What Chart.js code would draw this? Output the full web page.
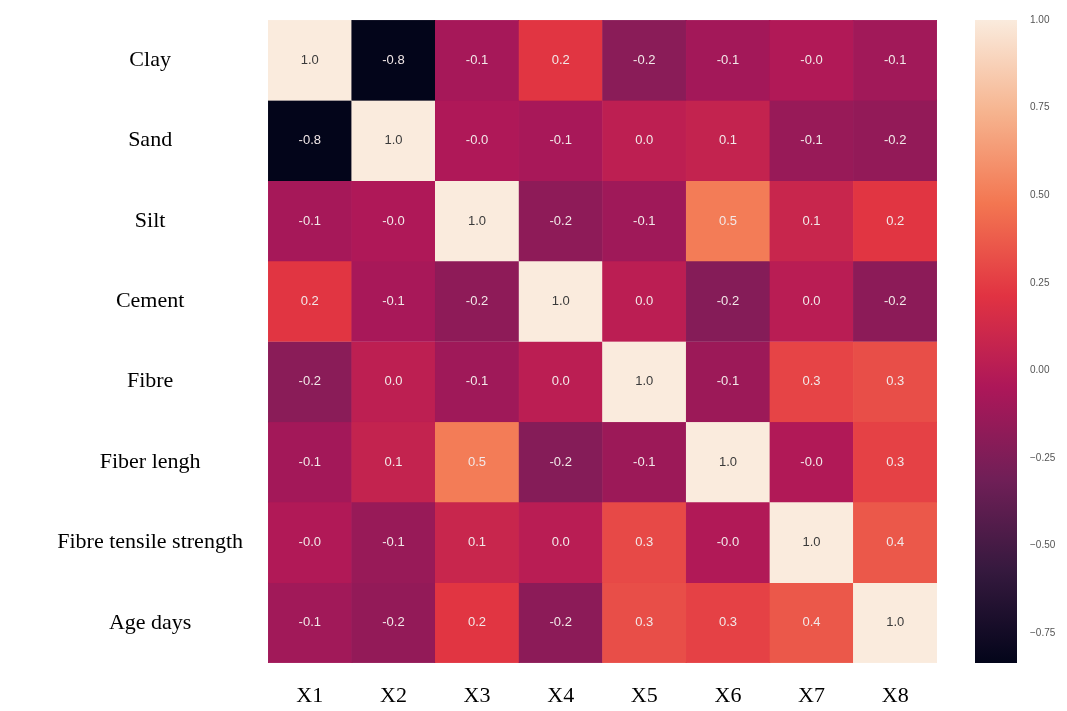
<!DOCTYPE html>
<html>
<head>
<meta charset="utf-8">
<script src="https://cdn.jsdelivr.net/npm/chart.js@4.4.0/dist/chart.umd.min.js"></script>
<style>
    html, body { margin: 0; padding: 0; background: #fff; }
    #wrap { position: relative; width: 1067px; height: 711px; }
    .box { position: absolute; top: 0; height: 711px; }
</style>
</head>
<body>
<div id="wrap">
    <div class="box" style="left:0; width:945px;"><canvas id="heat"></canvas></div>
    <div class="box" style="left:940px; width:127px;"><canvas id="cbar"></canvas></div>
</div>
<script>
// row / column names
const rows = ['Clay', 'Sand', 'Silt', 'Cement', 'Fibre', 'Fiber lengh', 'Fibre tensile strength', 'Age days'];
const cols = ['X1', 'X2', 'X3', 'X4', 'X5', 'X6', 'X7', 'X8'];

// correlation values (one array per row)
const clay     = [1.0, -0.835, -0.08, 0.22, -0.20, -0.09, -0.03, -0.10];
const sand     = [-0.835, 1.0, -0.04, -0.07, 0.03, 0.06, -0.14, -0.16];
const silt     = [-0.08, -0.04, 1.0, -0.18, -0.11, 0.50, 0.09, 0.22];
const cement   = [0.22, -0.07, -0.18, 1.0, 0.02, -0.22, 0.01, -0.19];
const fibre    = [-0.20, 0.03, -0.11, 0.02, 1.0, -0.12, 0.28, 0.32];
const fibLen   = [-0.09, 0.06, 0.50, -0.22, -0.12, 1.0, -0.03, 0.27];
const tensile  = [-0.03, -0.14, 0.09, 0.01, 0.30, -0.03, 1.0, 0.36];
const ageDays  = [-0.10, -0.16, 0.22, -0.19, 0.32, 0.27, 0.36, 1.0];
const matrix = [clay, sand, silt, cement, fibre, fibLen, tensile, ageDays];

// colour bar
const vmin = -0.835, vmax = 1.0;
const cbarTicks = [-0.75, -0.5, -0.25, 0, 0.25, 0.5, 0.75, 1.0];

// seaborn "rocket" colormap stops
const rocket = ['#03051a', '#35193e', '#701f57', '#ad1759', '#e13342', '#f37651', '#f6b48f', '#faebdd'];

function hexToRgb(h) {
    return [parseInt(h.substr(1, 2), 16), parseInt(h.substr(3, 2), 16), parseInt(h.substr(5, 2), 16)];
}
function colorFor(v) {
    let t = (v - vmin) / (vmax - vmin);
    t = Math.max(0, Math.min(1, t));
    const pos = t * (rocket.length - 1);
    const i = Math.min(Math.floor(pos), rocket.length - 2);
    const f = pos - i;
    const a = hexToRgb(rocket[i]), b = hexToRgb(rocket[i + 1]);
    const c = a.map((x, k) => Math.round(x + (b[k] - x) * f));
    return 'rgb(' + c.join(',') + ')';
}

// values written inside cells
const cellText = {
    id: 'cellText',
    afterDatasetsDraw(chart) {
        const ctx = chart.ctx;
        ctx.save();
        ctx.font = '13px "Liberation Sans", Arial, sans-serif';
        ctx.textAlign = 'center';
        ctx.textBaseline = 'middle';
        chart.data.datasets.forEach((ds, i) => {
            chart.getDatasetMeta(i).data.forEach((bar, j) => {
                const v = matrix[i][j];
                ctx.fillStyle = v > 0.6 ? '#3a3a3a' : '#f2e8e8';
                ctx.fillText(v.toFixed(1), bar.x, (bar.y + bar.base) / 2);
            });
        });
        ctx.restore();
    }
};

const serif = { family: '"Liberation Serif", "Times New Roman", serif', size: 22 };

new Chart(document.getElementById('heat'), {
    type: 'bar',
    data: {
        labels: cols,
        datasets: rows.map((name, i) => ({
            label: name,
            data: cols.map(() => 1),
            backgroundColor: matrix[i].map(colorFor),
            borderColor: matrix[i].map(colorFor),
            borderWidth: 0.5,
            borderSkipped: false,
            barPercentage: 1,
            categoryPercentage: 1
        }))
    },
    options: {
        responsive: true,
        maintainAspectRatio: false,
        animation: false,
        layout: { padding: { top: 20, right: 8, left: 0, bottom: 0 } },
        plugins: {
            legend: { display: false },
            tooltip: { enabled: false }
        },
        scales: {
            x: {
                stacked: true,
                grid: { display: false, drawTicks: false },
                border: { display: false },
                ticks: { color: '#000', font: serif, padding: 20 },
                afterFit(axis) {
                    axis.height = 48;
                    axis.paddingLeft = 0;
                    axis.paddingRight = 0;
                }
            },
            y: {
                stacked: true,
                reverse: true,
                min: 0,
                max: rows.length,
                grid: { display: false, drawTicks: false },
                border: { display: false },
                afterBuildTicks(axis) {
                    axis.ticks = rows.map((r, i) => ({ value: i + 0.5 }));
                },
                ticks: {
                    color: '#000',
                    font: serif,
                    padding: 25,
                    crossAlign: 'center',
                    callback: function(value) { return rows[Math.round(value - 0.5)]; }
                },
                afterFit(axis) {
                    axis.width = 268;
                    axis.paddingTop = 0;
                    axis.paddingBottom = 0;
                }
            }
        }
    },
    plugins: [cellText]
});

// colour bar
new Chart(document.getElementById('cbar'), {
    type: 'bar',
    data: {
        labels: [''],
        datasets: [{
            data: [[vmin, vmax]],
            barPercentage: 1,
            categoryPercentage: 1,
            backgroundColor: function(context) {
                const chart = context.chart;
                if (!chart.chartArea) return null;
                const y = chart.scales.y;
                const g = chart.ctx.createLinearGradient(0, y.getPixelForValue(vmin), 0, y.getPixelForValue(vmax));
                rocket.forEach((c, i) => g.addColorStop(i / (rocket.length - 1), c));
                return g;
            }
        }]
    },
    options: {
        responsive: true,
        maintainAspectRatio: false,
        animation: false,
        layout: { padding: { top: 20, left: 35, bottom: 48, right: 0 } },
        plugins: {
            legend: { display: false },
            tooltip: { enabled: false }
        },
        scales: {
            x: { display: false },
            y: {
                position: 'right',
                min: vmin,
                max: vmax,
                grid: { display: false, drawTicks: false },
                border: { display: false },
                afterBuildTicks(axis) {
                    axis.ticks = cbarTicks.map(v => ({ value: v }));
                },
                ticks: {
                    color: '#555',
                    font: { family: '"Liberation Sans", Arial, sans-serif', size: 10 },
                    padding: 13,
                    callback: function(value) { return value.toFixed(2).replace('-', '\u2212'); }
                },
                afterFit(axis) {
                    axis.width = 50;
                    axis.paddingTop = 0;
                    axis.paddingBottom = 0;
                }
            }
        }
    }
});
</script>
</body>
</html>
